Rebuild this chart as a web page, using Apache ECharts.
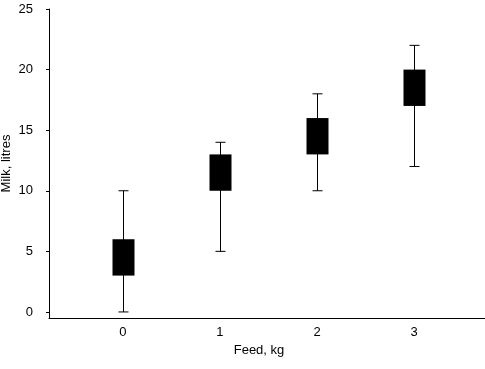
<!DOCTYPE html>
<html><head><meta charset="utf-8">
<script src="https://cdn.jsdelivr.net/npm/echarts@6/dist/echarts.min.js"></script>
<style>html,body{margin:0;padding:0;background:#fff}#c{width:485px;height:369px}</style>
</head><body><div id="c"></div>
<script>
const categories = [0, 1, 2, 3];
const whiskerLow = [0, 5, 10, 12];
const boxLow = [3, 10, 13, 17];
const boxHigh = [6, 13, 16, 20];
const whiskerHigh = [10, 14, 18, 22];
const yTicks = [0, 5, 10, 15, 20, 25];

const data = categories.map((c, i) => [c, whiskerLow[i], boxLow[i], boxHigh[i], whiskerHigh[i]]);
const font = 'Liberation Sans, Arial, sans-serif';

const chart = echarts.init(document.getElementById('c'), null, {renderer: 'canvas'});
chart.setOption({
  animation: false,
  grid: {left: 49, right: 0, top: 9, bottom: 51, containLabel: false, outerBoundsMode: 'none'},
  xAxis: {
    type: 'value', min: -0.76, max: 3.73,
    name: 'Feed, kg', nameLocation: 'middle', nameGap: 26, nameMoveOverlap: false,
    nameTextStyle: {color: '#000', fontSize: 13, fontFamily: font, padding: [0, 16, 0, 0]},
    axisLine: {show: true, onZero: false, lineStyle: {color: '#000', width: 1}},
    axisTick: {show: false},
    splitLine: {show: false},
    axisLabel: {customValues: categories, color: '#000', fontSize: 13, fontFamily: font, margin: 8}
  },
  yAxis: {
    type: 'value', min: -0.5, max: 25,
    name: 'Milk, litres', nameLocation: 'middle', nameGap: 36, nameMoveOverlap: false,
    nameTextStyle: {color: '#000', fontSize: 13, fontFamily: font},
    axisLine: {show: true, onZero: false, lineStyle: {color: '#000', width: 1}},
    axisTick: {show: true, customValues: yTicks, length: 3, lineStyle: {color: '#000'}},
    splitLine: {show: false},
    axisLabel: {customValues: yTicks, color: '#000', fontSize: 13, fontFamily: font, margin: 16}
  },
  series: [{
    type: 'custom',
    data: data,
    encode: {x: 0, y: [1, 2, 3, 4]},
    renderItem: function (params, api) {
      const x = api.value(0);
      const pLo = api.coord([x, api.value(1)]);
      const pBl = api.coord([x, api.value(2)]);
      const pBh = api.coord([x, api.value(3)]);
      const pHi = api.coord([x, api.value(4)]);
      const cx = Math.round(pLo[0]) + 0.5;
      const bw = 22, cw = 10;
      const ls = {stroke: '#000', lineWidth: 1};
      return {
        type: 'group',
        children: [
          {type: 'line', shape: {x1: cx, y1: pLo[1], x2: cx, y2: pHi[1]}, style: ls},
          {type: 'line', shape: {x1: cx - cw / 2, y1: pLo[1], x2: cx + cw / 2, y2: pLo[1]}, style: ls},
          {type: 'line', shape: {x1: cx - cw / 2, y1: pHi[1], x2: cx + cw / 2, y2: pHi[1]}, style: ls},
          {type: 'rect', shape: {x: cx - bw / 2, y: pBh[1], width: bw, height: pBl[1] - pBh[1]}, style: {fill: '#000'}}
        ]
      };
    }
  }]
});
</script></body></html>
